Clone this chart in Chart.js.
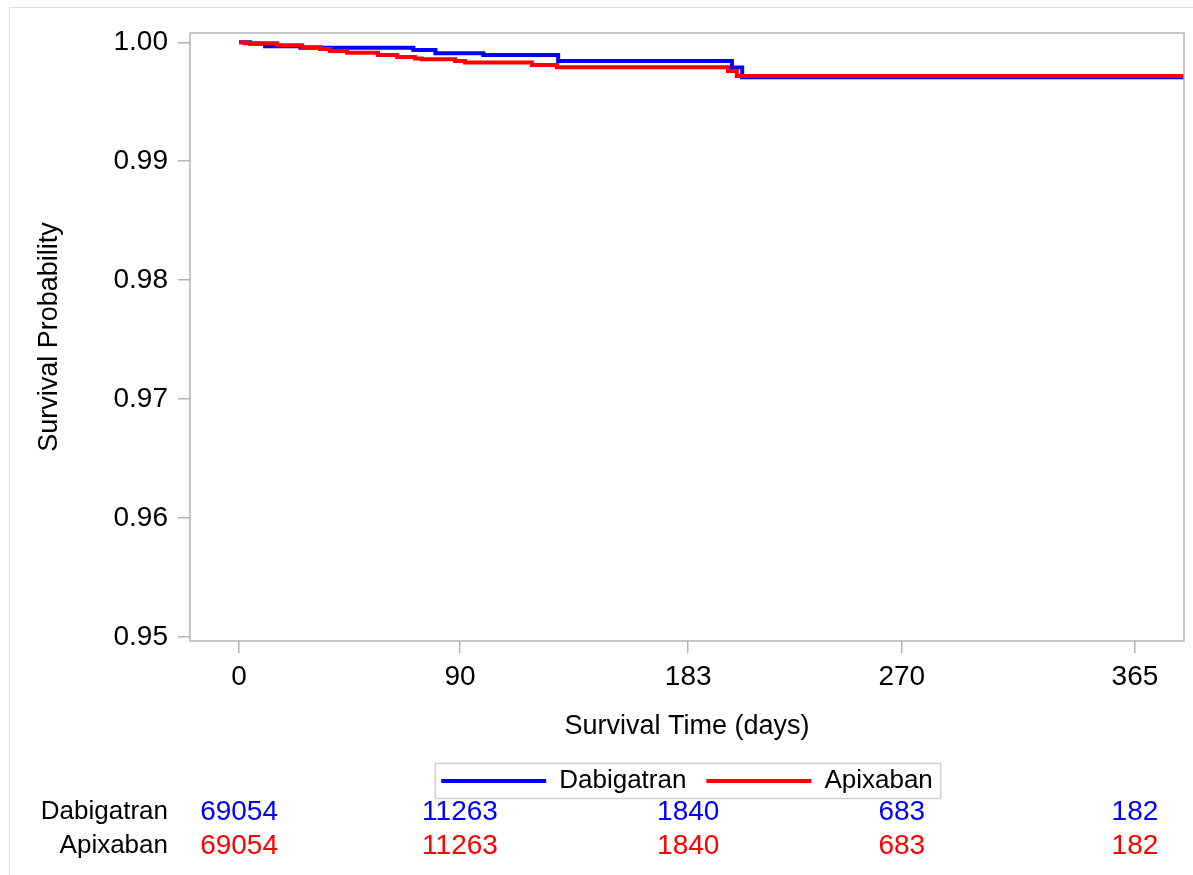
<!DOCTYPE html>
<html>
<head>
<meta charset="utf-8">
<title>Survival Probability</title>
<script src="https://cdn.jsdelivr.net/npm/chart.js@4.4.1/dist/chart.umd.min.js"></script>
<style>
  html, body { margin: 0; padding: 0; background: #fff; }
  #wrap { position: relative; width: 1193px; height: 875px; }
</style>
</head>
<body>
<div id="wrap"><canvas id="kmChart"></canvas></div>
<script>
// Kaplan-Meier step estimates: event times (days) and survival after each step
const dabigatranDays = [0, 4.5, 10.6, 25, 71, 80, 99.5, 130, 200.8, 205, 385];
const dabigatranSurv = [1.0000, 0.99987, 0.99966, 0.99954, 0.99935, 0.99907, 0.99893, 0.99843, 0.99787, 0.99706, 0.99706];
const apixabanDays = [0, 2.4, 15.5, 25.7, 33, 37, 44, 56.6, 64.4, 71.7, 74.5, 88, 92, 119.3, 129.5, 199.2, 202.8, 385];
const apixabanSurv = [1.0000, 0.99992, 0.99975, 0.99958, 0.99944, 0.99927, 0.99912, 0.99893, 0.99876, 0.99863, 0.99857, 0.99843, 0.99829, 0.99809, 0.99791, 0.99759, 0.99717, 0.99717];

// axis ticks and number-at-risk table
const timeTicks = [0, 90, 183, 270, 365];
const probTicks = [0.95, 0.96, 0.97, 0.98, 0.99, 1.00];
const dabigatranAtRisk = [69054, 11263, 1840, 683, 182];
const apixabanAtRisk = [69054, 11263, 1840, 683, 182];

const BLUE = '#0000ff';
const RED = '#ff0000';
const FRAME = '#b4b4b4';
const FAMILY = "'Liberation Sans', Arial, sans-serif";
const TICK_FONT = { family: FAMILY, size: 28 };
const TITLE_FONT = { family: FAMILY, size: 27 };
const LEGEND_FONT = { family: FAMILY, size: 26 };
const ROW_LABEL_SIZE = 26;
const TABLE_SIZE = 28;

function toPoints(days, surv) {
    return days.map((d, i) => ({ x: d, y: surv[i] }));
}

// frame around the plot, legend border and the at-risk rows
const extras = {
    id: 'extras',
    afterDraw(chart) {
        const { ctx, chartArea: a, scales } = chart;
        ctx.save();

        // outer page border (left and top edges)
        ctx.strokeStyle = '#dcdcdc';
        ctx.lineWidth = 1;
        ctx.beginPath();
        ctx.moveTo(9.5, 875);
        ctx.lineTo(9.5, 7.5);
        ctx.lineTo(1193, 7.5);
        ctx.stroke();

        // plot frame
        ctx.strokeStyle = FRAME;
        ctx.lineWidth = 1.5;
        ctx.strokeRect(a.left, a.top, a.right - a.left, a.bottom - a.top);

        // legend box
        const boxes = chart.legend.legendHitBoxes;
        if (boxes && boxes.length) {
            const l = Math.min(...boxes.map(b => b.left)) - 6;
            const r = Math.max(...boxes.map(b => b.left + b.width)) + 8;
            const cy = boxes[0].top + boxes[0].height / 2;
            ctx.strokeStyle = '#d0d0d0';
            ctx.lineWidth = 1.5;
            ctx.strokeRect(l, cy - 17.5, r - l, 35);
        }

        // number at risk
        ctx.textBaseline = 'middle';
        const rows = [
            { name: 'Dabigatran', vals: dabigatranAtRisk, color: BLUE, y: 812 },
            { name: 'Apixaban', vals: apixabanAtRisk, color: RED, y: 846 }
        ];
        rows.forEach(row => {
            ctx.font = `${ROW_LABEL_SIZE}px ${FAMILY}`;
            ctx.fillStyle = '#000';
            ctx.textAlign = 'right';
            ctx.fillText(row.name, 168, row.y);
            ctx.font = `${TABLE_SIZE}px ${FAMILY}`;
            ctx.fillStyle = row.color;
            ctx.textAlign = 'center';
            row.vals.forEach((v, i) => {
                ctx.fillText(String(v), scales.x.getPixelForValue(timeTicks[i]), row.y);
            });
        });
        ctx.restore();
    }
};

const ctx = document.getElementById('kmChart').getContext('2d');
const kmChart = new Chart(ctx, {
    type: 'line',
    data: {
        datasets: [{
            label: 'Dabigatran',
            data: toPoints(dabigatranDays, dabigatranSurv),
            borderColor: BLUE,
            backgroundColor: BLUE,
            borderWidth: 4,
            stepped: true,
            pointRadius: 0,
            order: 1
        }, {
            label: 'Apixaban',
            data: toPoints(apixabanDays, apixabanSurv),
            borderColor: RED,
            backgroundColor: RED,
            borderWidth: 4,
            stepped: true,
            pointRadius: 0,
            order: 0
        }]
    },
    options: {
        responsive: true,
        maintainAspectRatio: false,
        animation: false,
        layout: { padding: { left: 20, right: 9, top: 33, bottom: 71 } },
        plugins: {
            tooltip: { enabled: false },
            legend: {
                position: 'bottom',
                fullSize: false,
                labels: {
                    font: LEGEND_FONT,
                    color: '#000',
                    boxWidth: 105,
                    boxHeight: 4,
                    padding: 20,
                    sort: (a, b) => a.datasetIndex - b.datasetIndex,
                    generateLabels: chart => Chart.defaults.plugins.legend.labels.generateLabels(chart)
                        .map(item => Object.assign(item, { lineWidth: 0 }))
                }
            }
        },
        scales: {
            x: {
                type: 'linear',
                min: -20,
                max: 385,
                afterBuildTicks: s => { s.ticks = timeTicks.map(v => ({ value: v })); },
                afterFit: s => { s.height = 107; },
                ticks: { font: TICK_FONT, color: '#000', padding: 7, maxRotation: 0, autoSkip: false },
                grid: { drawOnChartArea: false, tickLength: 12, color: FRAME, lineWidth: 1.5 },
                border: { display: false },
                title: { display: true, text: 'Survival Time (days)', font: TITLE_FONT, color: '#000', padding: { top: 0, bottom: 5 } }
            },
            y: {
                min: 0.94966,
                max: 1.00078,
                afterBuildTicks: s => { s.ticks = probTicks.map(v => ({ value: v })); },
                afterFit: s => { s.width = 170; },
                ticks: { font: TICK_FONT, color: '#000', padding: 10, callback: v => v.toFixed(2) },
                grid: { drawOnChartArea: false, tickLength: 12, color: FRAME, lineWidth: 1.5 },
                border: { display: false },
                title: { display: true, text: 'Survival Probability', font: TITLE_FONT, color: '#000', padding: { top: 13, bottom: 0 } }
            }
        }
    },
    plugins: [extras]
});
</script>
</body>
</html>
